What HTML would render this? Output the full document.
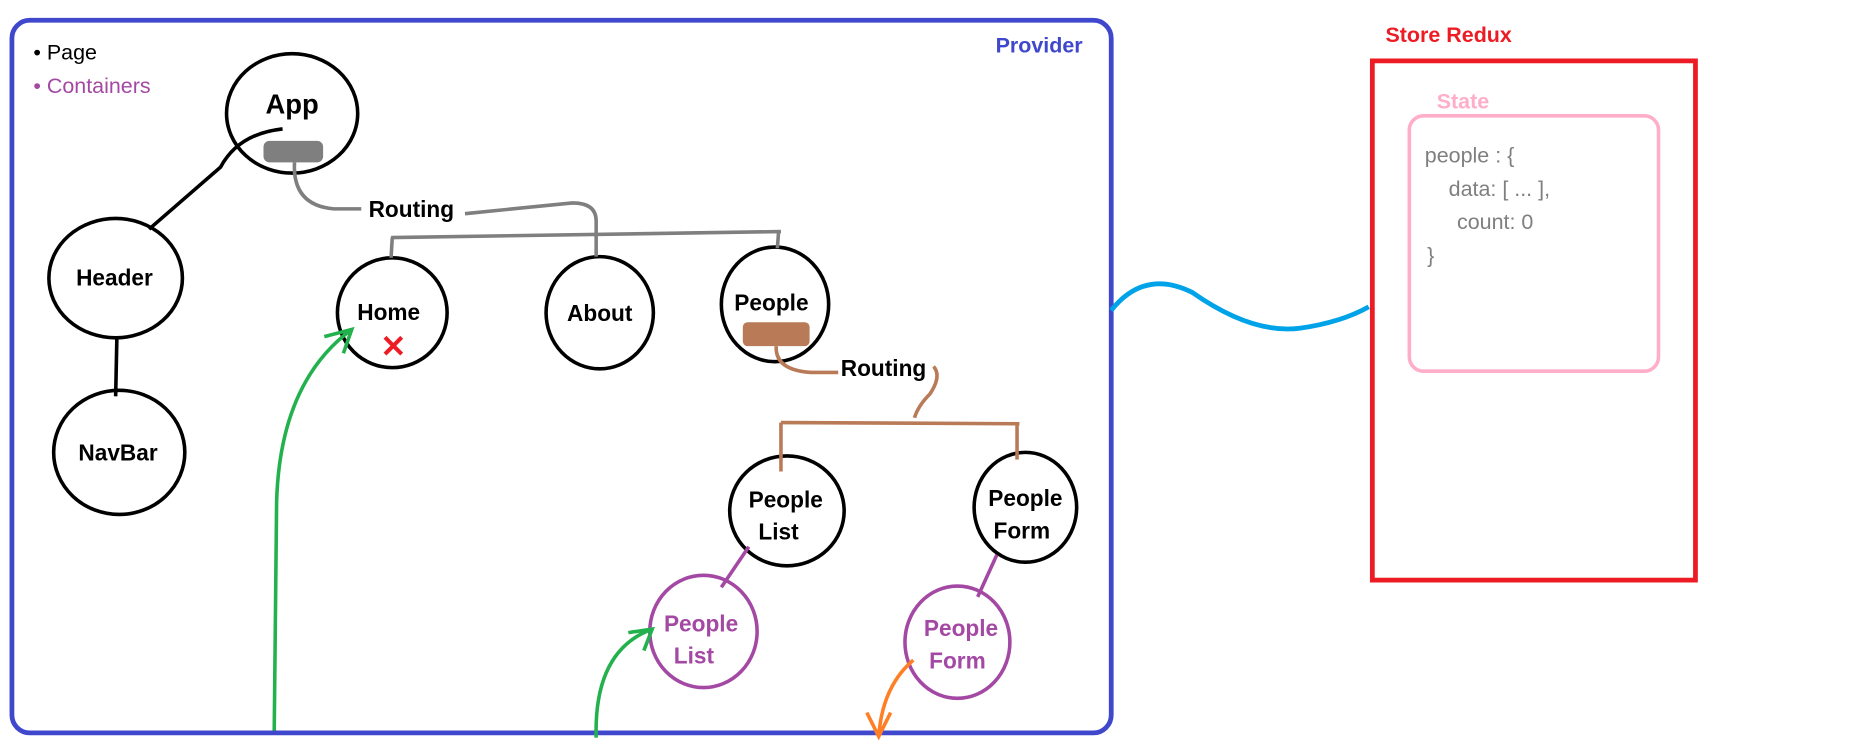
<!DOCTYPE html>
<html><head><style>html,body{margin:0;padding:0;background:#fff;overflow:hidden}svg{display:block}
text{font-family:"Liberation Sans",sans-serif}</style></head><body>
<svg width="1860" height="752" viewBox="0 0 1560 630" preserveAspectRatio="none" xmlns="http://www.w3.org/2000/svg">
<rect x="10" y="17" width="922" height="597" rx="15" fill="none" stroke="#3f48cc" stroke-width="4"/>
<text x="835" y="44" font-size="18" font-weight="bold" fill="#3f48cc">Provider</text>
<text x="28" y="50" font-size="18" fill="#000">• Page</text>
<text x="28" y="78" font-size="18" fill="#a349a4">• Containers</text>
<g fill="none" stroke="#000" stroke-width="3">
<ellipse cx="245" cy="95" rx="55" ry="50"/>
<ellipse cx="97" cy="233" rx="56" ry="50"/>
<ellipse cx="100" cy="379" rx="55" ry="52"/>
<ellipse cx="329" cy="262" rx="46" ry="46"/>
<ellipse cx="503" cy="262" rx="45" ry="47"/>
<ellipse cx="650" cy="255" rx="45" ry="48"/>
<ellipse cx="660" cy="428" rx="48" ry="46"/>
<ellipse cx="860" cy="425" rx="43" ry="46"/>
<path d="M237 108 Q200 112 185 140 L125 192"/>
<path d="M98 284 L97 332"/>
</g>
<rect x="221" y="118" width="50" height="18" rx="5" fill="#7f7f7f"/>
<g fill="none" stroke="#7f7f7f" stroke-width="3">
<path d="M247 136 Q245 172 280 175 L303 175"/>
<path d="M390 179 L480 170 Q500 170 500 185 L500 215"/>
<path d="M328 199 L655 194"/><path d="M329 199 L328 216"/><path d="M653 194 L652 208"/>
</g>
<rect x="623" y="270" width="56" height="20" rx="4" fill="#b97a57"/>
<g fill="none" stroke="#b97a57" stroke-width="3">
<path d="M651 290 Q650 310 680 312 L703 312"/>
<path d="M783 307 Q790 315 780 330 Q770 340 767 350"/>
<path d="M655 354 L855 355"/><path d="M655 354 L655 395"/><path d="M853 355 L853 385"/>
</g>
<g fill="none" stroke="#a349a4" stroke-width="3">
<path d="M628 458 L605 492"/><path d="M836 465 L820 500"/>
<ellipse cx="590" cy="529" rx="45" ry="47"/>
<ellipse cx="803" cy="538" rx="44" ry="47"/>
</g>
<g fill="none" stroke="#22b14c" stroke-width="3">
<path d="M230 612 L232 420 Q235 320 295 276"/><path d="M272 282 L295 276 L288 296"/>
<path d="M500 618 Q498 545 547 527"/><path d="M527 530 L547 527 L540 545"/>
</g>
<g fill="none" stroke="#ff7f27" stroke-width="3">
<path d="M766 553 Q740 575 737 617"/><path d="M727 597 L737 617 L747 597"/>
</g>
<path d="M932 260 Q960 225 1000 245 Q1050 280 1090 275 Q1125 270 1148 257" fill="none" stroke="#00a2e8" stroke-width="4"/>
<g font-weight="bold" font-size="19" fill="#000" text-anchor="middle">
<text x="245" y="95" font-size="23">App</text>
<text x="96" y="239">Header</text>
<text x="99" y="386">NavBar</text>
<text x="326" y="268">Home</text>
<text x="503" y="269">About</text>
<text x="647" y="260">People</text>
<text x="345" y="182">Routing</text>
<text x="741" y="315">Routing</text>
<text x="659" y="425">People</text><text x="653" y="452">List</text>
<text x="860" y="424">People</text><text x="857" y="451">Form</text>
<g fill="#a349a4"><text x="588" y="529">People</text><text x="582" y="556">List</text>
<text x="806" y="533">People</text><text x="803" y="560">Form</text></g>
</g>
<text x="319" y="299" font-size="26" fill="#ed1c24" font-weight="bold">✕</text>
<text x="1162" y="35" font-size="18" font-weight="bold" fill="#ed1c24">Store Redux</text>
<rect x="1151" y="51" width="271" height="435" fill="none" stroke="#ed1c24" stroke-width="4"/>
<text x="1205" y="91" font-size="18" font-weight="bold" fill="#ffaec9">State</text>
<rect x="1182" y="97" width="209" height="214" rx="12" fill="none" stroke="#ffaec9" stroke-width="3"/>
<g font-size="18" fill="#7f7f7f">
<text x="1195" y="136">people : {</text>
<text x="1215" y="164">data: [ ... ],</text>
<text x="1222" y="192">count: 0</text>
<text x="1197" y="220">}</text>
</g>
</svg>
</body></html>
